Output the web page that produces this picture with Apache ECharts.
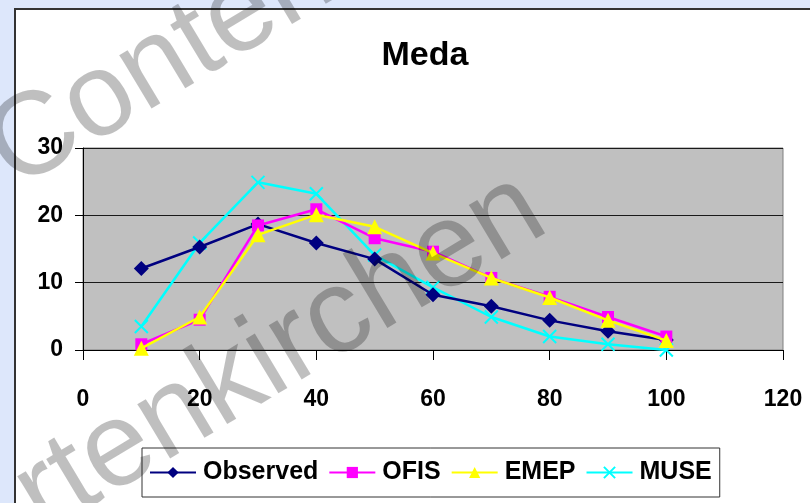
<!DOCTYPE html>
<html>
<head>
<meta charset="utf-8">
<script src="https://cdn.jsdelivr.net/npm/echarts@6/dist/echarts.min.js"></script>
<style>
html,body{margin:0;padding:0;background:#dde7fb;}
#c{width:810px;height:503px;}
</style>
</head>
<body>
<div id="c"></div>
<script>
const xValues = [10, 20, 30, 40, 50, 60, 70, 80, 90, 100];
const observed = [12.1, 15.3, 18.7, 15.9, 13.5, 8.2, 6.5, 4.4, 2.8, 1.5];
const ofis = [0.85, 4.5, 18.5, 20.9, 16.6, 14.6, 10.7, 7.9, 4.9, 2.0];
const emep = [0.25, 4.9, 17.1, 20.1, 18.3, 14.4, 10.7, 7.8, 4.4, 1.4];
const muse = [3.5, 15.9, 24.9, 23.2, 14.1, 9.3, 4.9, 2.0, 0.85, 0.0];
const seriesNames = ['Observed', 'OFIS', 'EMEP', 'MUSE'];
const titleText = 'Meda';

const FONT = '"Liberation Sans Narrow", "Liberation Sans", Arial, sans-serif';
const WM_FONT = '"Liberation Sans", Arial, sans-serif';
const pair = (vals) => xValues.map((x, i) => [x, vals[i]]);

const chart = echarts.init(document.getElementById('c'), null, {renderer: 'canvas'});
chart.setOption({
  backgroundColor: '#dde7fb',
  animation: false,
  graphic: [
    {type: 'rect', z: -10, shape: {x: 15, y: 9, width: 820, height: 520},
     style: {fill: '#ffffff', stroke: '#333333', lineWidth: 2}},
    {type: 'text', z: 100, x: -32, y: 112, rotation: 31 * Math.PI / 180,
     style: {text: 'Content', font: '118px ' + WM_FONT,
       fill: 'rgba(0,0,0,0.25)'}},
    {type: 'text', z: 100, x: -5, y: 455, rotation: 31 * Math.PI / 180,
     style: {text: 'rtenkirchen', font: '120px ' + WM_FONT,
       fill: 'rgba(0,0,0,0.25)'}}
  ],
  title: {
    text: titleText, left: 420, top: 34, textAlign: 'center',
    textStyle: {fontFamily: FONT, fontWeight: 'bold', fontSize: 34, color: '#000'}
  },
  grid: {
    left: 83, right: 27, top: 148, bottom: 153, show: true,
    backgroundColor: '#c0c0c0', borderColor: '#808080', borderWidth: 1
  },
  legend: {
    data: seriesNames, left: 142, top: 448, width: 620,
    padding: [12, 8, 12, 7], itemGap: 10, itemWidth: 46, itemHeight: 14,
    backgroundColor: '#ffffff', borderColor: '#333', borderWidth: 1, borderRadius: 0,
    textStyle: {fontFamily: FONT, fontWeight: 'bold', fontSize: 25, color: '#000', padding: [0, 0, 0, 2]}
  },
  xAxis: {
    type: 'value', min: 0, max: 120, interval: 20,
    axisLine: {lineStyle: {color: '#000', width: 1}},
    axisTick: {show: true, length: 10, lineStyle: {color: '#000'}},
    axisLabel: {margin: 38, fontFamily: FONT, fontWeight: 'bold', fontSize: 23, color: '#000'},
    splitLine: {show: false}
  },
  yAxis: {
    type: 'value', min: 0, max: 30, interval: 10,
    axisLine: {show: true, lineStyle: {color: '#000', width: 1}},
    axisTick: {show: true, length: 8, lineStyle: {color: '#000'}},
    axisLabel: {margin: 20, fontFamily: FONT, fontWeight: 'bold', fontSize: 23, color: '#000'},
    splitLine: {show: true, lineStyle: {color: '#1a1a1a', width: 1}}
  },
  series: [
    {name: seriesNames[0], type: 'line', data: pair(observed), symbol: 'diamond', symbolSize: 15,
     lineStyle: {color: '#000080', width: 2.5}, itemStyle: {color: '#000080'}, z: 5},
    {name: seriesNames[1], type: 'line', data: pair(ofis), symbol: 'rect', symbolSize: 12,
     lineStyle: {color: '#ff00ff', width: 2.5}, itemStyle: {color: '#ff00ff'}, z: 6},
    {name: seriesNames[2], type: 'line', data: pair(emep), symbol: 'triangle', symbolSize: 15,
     lineStyle: {color: '#ffff00', width: 2.5}, itemStyle: {color: '#ffff00'}, z: 7},
    {name: seriesNames[3], type: 'line', data: pair(muse),
     symbol: 'path://M0,0L10,10M10,0L0,10', symbolSize: 13,
     lineStyle: {color: '#00ffff', width: 2.5},
     itemStyle: {color: '#00ffff', borderColor: '#00ffff', borderWidth: 2}, z: 4}
  ]
});
</script>
</body>
</html>
